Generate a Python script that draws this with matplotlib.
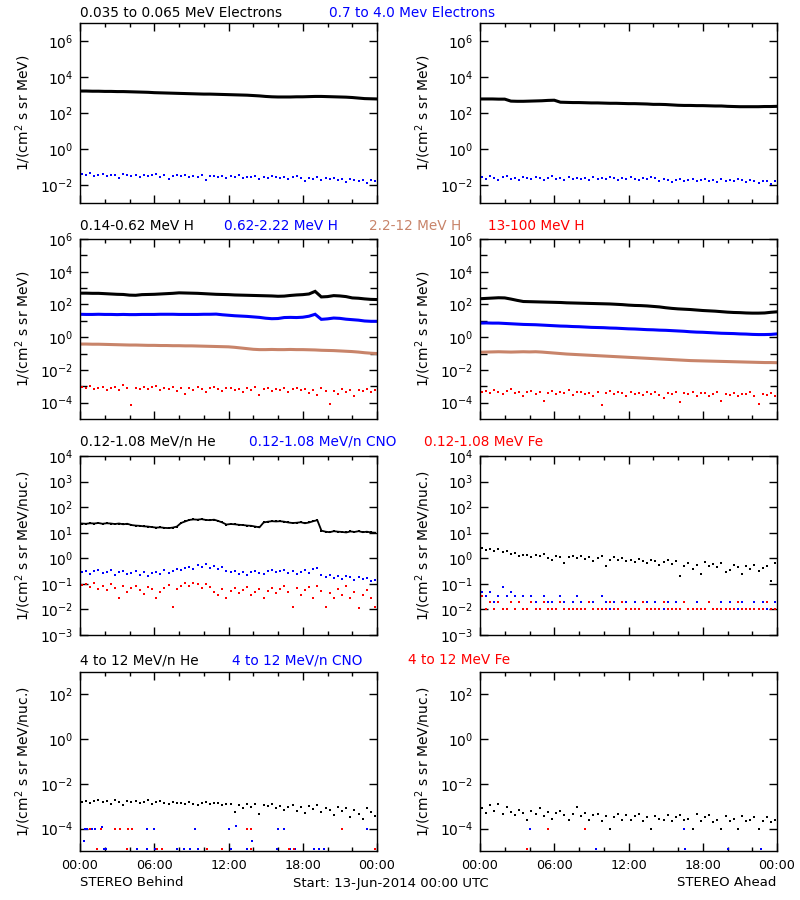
import numpy as np
import matplotlib
matplotlib.use('Agg')
import matplotlib.pyplot as plt
from matplotlib.ticker import FixedLocator, FuncFormatter, NullFormatter, NullLocator

# all fluxes are log10 values, time in hours from 13-Jun-2014 00:00 UTC

# --- row 1: electrons
e_b_lo = [3.22,3.22,3.21,3.21,3.20,3.20,3.19,3.19,3.18,3.17,3.16,3.15,3.13,3.12,3.11,3.10,3.09,3.08,3.07,3.06,
          3.05,3.05,3.04,3.03,3.02,3.01,3.00,2.99,2.97,2.95,2.92,2.90,2.89,2.89,2.89,2.90,2.90,2.91,2.92,2.92,
          2.91,2.90,2.89,2.88,2.86,2.83,2.80,2.79,2.78]
e_b_hi = [-1.40,-1.46,-1.35,-1.50,-1.42,-1.38,-1.52,-1.44,-1.47,-1.60,-1.41,-1.46,
          -1.49,-1.43,-1.58,-1.46,-1.51,-1.44,-1.40,-1.53,-1.47,-1.65,-1.50,-1.45,
          -1.52,-1.42,-1.56,-1.49,-1.54,-1.46,-1.72,-1.51,-1.48,-1.57,-1.52,-1.60,
          -1.50,-1.55,-1.47,-1.62,-1.53,-1.58,-1.51,-1.66,-1.54,-1.60,-1.52,-1.57,
          -1.63,-1.55,-1.68,-1.58,-1.52,-1.61,-1.80,-1.59,-1.64,-1.56,-1.70,-1.62,
          -1.66,-1.60,-1.74,-1.65,-1.82,-1.68,-1.72,-1.78,-1.70,-1.88,-1.74,-1.80]
e_a_lo = [2.78,2.78,2.78,2.77,2.77,2.66,2.65,2.65,2.66,2.67,2.68,2.70,2.71,2.60,2.59,2.58,2.58,2.57,2.56,2.56,
          2.55,2.54,2.54,2.53,2.52,2.52,2.51,2.50,2.48,2.48,2.47,2.45,2.43,2.42,2.42,2.41,2.41,2.40,2.39,2.39,
          2.37,2.36,2.35,2.35,2.35,2.35,2.36,2.36,2.37]
e_a_hi = [-1.58,-1.65,-1.52,-1.62,-1.70,-1.55,-1.48,-1.66,-1.60,-1.72,-1.57,-1.63,
          -1.68,-1.56,-1.61,-1.74,-1.59,-1.52,-1.66,-1.62,-1.70,-1.58,-1.64,-1.60,
          -1.67,-1.62,-1.72,-1.58,-1.65,-1.61,-1.68,-1.55,-1.63,-1.70,-1.60,-1.66,
          -1.58,-1.64,-1.72,-1.61,-1.67,-1.56,-1.63,-1.78,-1.65,-1.70,-1.86,-1.74,
          -1.68,-1.80,-1.72,-1.66,-1.76,-1.70,-1.64,-1.78,-1.72,-1.84,-1.68,-1.75,
          -1.70,-1.80,-1.66,-1.74,-1.82,-1.72,-1.78,-1.88,-1.75,-1.80,-1.92,-1.78]

# --- row 2: protons
h_b_1 = [2.69,2.69,2.68,2.68,2.66,2.64,2.62,2.61,2.57,2.56,2.60,2.61,2.62,2.64,2.66,2.68,2.71,2.70,2.69,2.68,
         2.66,2.64,2.62,2.61,2.60,2.58,2.57,2.56,2.55,2.54,2.53,2.52,2.50,2.51,2.55,2.58,2.60,2.64,2.80,2.46,
         2.48,2.54,2.52,2.48,2.40,2.38,2.34,2.31,2.30]
h_b_2 = [1.40,1.39,1.39,1.40,1.39,1.39,1.38,1.39,1.38,1.38,1.39,1.39,1.39,1.40,1.40,1.40,1.39,1.39,1.39,1.39,
         1.40,1.40,1.41,1.37,1.34,1.31,1.29,1.27,1.24,1.21,1.16,1.13,1.14,1.20,1.21,1.20,1.22,1.28,1.40,1.09,
         1.12,1.17,1.15,1.10,1.07,1.04,0.99,0.97,0.97]
h_b_3 = [-0.42,-0.42,-0.43,-0.43,-0.44,-0.45,-0.46,-0.47,-0.48,-0.48,-0.49,-0.50,-0.50,-0.51,-0.51,-0.52,-0.52,
         -0.53,-0.53,-0.54,-0.55,-0.56,-0.57,-0.58,-0.59,-0.62,-0.66,-0.70,-0.74,-0.76,-0.76,-0.75,-0.76,-0.76,
         -0.75,-0.76,-0.76,-0.77,-0.78,-0.80,-0.81,-0.82,-0.84,-0.86,-0.88,-0.91,-0.95,-0.98,-1.00]
h_b_4 = [-3.05,-3.12,-2.98,-3.15,-3.08,-3.02,-3.20,-3.10,-3.05,-3.25,-2.95,-3.12,
         -4.15,-3.08,-3.18,-3.02,-3.14,-3.06,-2.96,-3.22,-3.10,-3.16,-3.04,-3.28,
         -3.12,-3.48,-3.08,-3.20,-3.05,-3.15,-3.32,-3.10,-3.02,-3.18,-3.26,-3.12,
         -3.08,-3.22,-3.14,-3.38,-3.10,-3.20,-3.06,-3.52,-3.18,-3.12,-3.28,-3.15,
         -3.22,-3.10,-3.35,-3.18,-3.08,-3.25,-3.14,-3.42,-3.20,-3.52,-3.12,-3.30,
         -4.10,-3.26,-3.48,-3.15,-3.32,-3.22,-3.62,-3.20,-3.28,-3.18,-3.35,-3.25]
h_a_1 = [2.35,2.37,2.39,2.41,2.40,2.33,2.25,2.18,2.17,2.16,2.15,2.14,2.13,2.12,2.10,2.09,2.08,2.07,2.06,2.05,
         2.04,2.03,2.01,1.99,1.96,1.94,1.93,1.91,1.88,1.85,1.80,1.76,1.73,1.71,1.69,1.66,1.63,1.61,1.59,1.56,
         1.53,1.51,1.50,1.48,1.47,1.47,1.48,1.52,1.55]
h_a_2 = [0.86,0.87,0.86,0.86,0.84,0.82,0.80,0.78,0.77,0.76,0.74,0.72,0.70,0.68,0.67,0.65,0.64,0.62,0.60,0.59,
         0.58,0.56,0.55,0.53,0.51,0.50,0.48,0.46,0.45,0.43,0.42,0.40,0.38,0.36,0.33,0.31,0.30,0.28,0.26,0.24,
         0.23,0.22,0.20,0.19,0.17,0.16,0.16,0.17,0.20]
h_a_3 = [-0.92,-0.91,-0.90,-0.89,-0.90,-0.91,-0.90,-0.89,-0.90,-0.89,-0.91,-0.94,-0.97,-1.00,-1.03,-1.05,-1.07,
         -1.09,-1.11,-1.13,-1.15,-1.17,-1.19,-1.21,-1.23,-1.25,-1.27,-1.29,-1.31,-1.33,-1.35,-1.37,-1.39,-1.41,
         -1.43,-1.44,-1.45,-1.46,-1.47,-1.48,-1.49,-1.50,-1.51,-1.52,-1.53,-1.54,-1.55,-1.55,-1.56]
h_a_4 = [-3.35,-3.28,-3.42,-3.20,-3.38,-3.50,-3.30,-3.15,-3.40,-3.32,-3.62,-3.36,
         -3.28,-3.45,-3.34,-3.90,-3.40,-3.30,-3.48,-3.36,-3.42,-3.25,-3.52,-3.38,
         -3.32,-3.46,-3.40,-3.58,-3.35,-4.15,-3.44,-3.30,-3.50,-3.38,-3.42,-3.62,
         -3.36,-3.48,-3.40,-3.55,-3.34,-3.45,-3.38,-3.52,-3.70,-3.40,-3.46,-3.35,
         -3.95,-3.42,-3.50,-3.36,-3.58,-3.44,-3.40,-3.60,-3.48,-3.38,-3.92,-3.46,
         -3.52,-3.40,-3.62,-3.45,-3.50,-3.38,-3.58,-4.10,-3.48,-3.55,-3.42,-3.62]

# --- row 3: 0.12-1.08 MeV/n heavy ions
he_b_lo = [1.36,1.35,1.37,1.36,1.38,1.35,1.37,1.36,1.34,1.36,1.33,1.35,
           1.30,1.28,1.27,1.25,1.24,1.22,1.20,1.21,1.19,1.18,1.20,1.24,
           1.38,1.44,1.50,1.52,1.51,1.53,1.50,1.49,1.51,1.46,1.40,1.32,
           1.34,1.33,1.31,1.30,1.28,1.27,1.24,1.21,1.40,1.43,1.45,1.44,
           1.45,1.43,1.40,1.38,1.39,1.41,1.37,1.40,1.45,1.49,1.08,1.04,
           1.02,1.06,1.04,1.03,1.01,1.05,1.03,1.06,1.02,1.04,1.01,1.00]
cno_b_lo = [-0.55,-0.48,-0.62,-0.50,-0.44,-0.58,-0.52,-0.47,-0.66,-0.53,-0.49,-0.60,
            -0.57,-0.51,-0.64,-0.55,-0.70,-0.58,-0.52,-0.61,-0.47,-0.56,-0.50,-0.42,
            -0.45,-0.38,-0.33,-0.40,-0.28,-0.35,-0.24,-0.37,-0.31,-0.42,-0.36,-0.50,
            -0.54,-0.48,-0.60,-0.52,-0.67,-0.55,-0.49,-0.58,-0.63,-0.51,-0.46,-0.55,
            -0.50,-0.44,-0.57,-0.48,-0.62,-0.53,-0.47,-0.58,-0.42,-0.38,-0.66,-0.72,
            -0.64,-0.78,-0.70,-0.82,-0.68,-0.75,-0.85,-0.72,-0.80,-0.77,-0.88,-0.83]
fe_b_lo = [-1.05,-1.00,-1.12,-0.98,-1.20,-1.08,-1.25,-1.02,-1.15,-1.55,-1.10,-1.30,
           -1.18,-1.08,-1.25,-1.40,-1.12,-1.22,-1.55,-1.30,-1.15,-1.05,-1.92,-1.20,
           -1.10,-0.98,-1.08,-0.95,-1.02,-1.15,-1.00,-1.12,-1.30,-1.42,-1.22,-1.55,
           -1.28,-1.18,-1.35,-1.25,-1.12,-1.42,-1.30,-1.20,-1.55,-1.28,-1.15,-1.35,
           -1.22,-1.10,-1.30,-1.92,-1.18,-1.42,-1.25,-1.12,-1.55,-1.08,-1.28,-1.92,
           -1.35,-1.55,-1.22,-1.42,-1.10,-1.55,-1.30,-1.95,-1.42,-1.25,-1.55,-1.92]
he_a_lo = [0.40,0.33,0.38,0.30,0.36,0.25,0.28,0.15,0.20,0.10,0.14,0.12,
           0.05,0.12,0.08,0.15,0.02,-0.05,0.10,0.06,-0.18,0.04,0.10,0.00,
           0.08,-0.02,0.05,-0.12,0.03,0.10,-0.30,-0.05,0.06,-0.08,0.02,-0.10,
           -0.05,-0.15,-0.02,-0.10,-0.20,-0.08,-0.12,-0.25,-0.15,-0.05,-0.22,-0.12,
           -0.70,-0.30,-0.18,-0.40,-0.25,-0.60,-0.15,-0.30,-0.22,-0.35,-0.20,-0.55,
           -0.45,-0.28,-0.35,-0.62,-0.30,-0.40,-0.25,-0.48,-0.38,-0.30,-0.90,-0.20]
cno_a_lo = [-1.30,-1.49,-1.30,-1.69,-1.49,-1.13,-1.49,-1.32,-1.49,-1.69,-1.49,-2.00,
            -1.49,-1.69,-2.00,-1.49,-1.69,-1.69,-2.00,-1.49,-1.69,-2.00,-1.69,-1.49,
            -1.69,-2.00,-1.69,-1.69,-2.00,-1.49,-1.69,-2.00,-1.69,-2.00,-1.69,-1.69,
            -2.00,-1.69,-2.00,-1.69,-1.69,-2.00,-1.69,-2.00,-2.00,-1.69,-2.00,-1.69,
            -2.00,-1.69,-2.00,-2.00,-1.69,-2.00,-2.00,-1.69,-2.00,-2.00,-1.69,-2.00,
            -1.69,-2.00,-2.00,-1.69,-2.00,-2.00,-1.69,-2.00,-1.69,-2.00,-2.00,-1.69]
fe_a_lo = [-1.49,-2.00,-1.69,-2.00,-1.69,-2.00,-2.00,-1.69,-2.00,-1.69,-2.00,-2.00,
           -1.69,-2.00,-2.00,-1.69,-2.00,-2.00,-2.00,-1.69,-2.00,-2.00,-2.00,-2.00,
           -2.00,-2.00,-1.69,-2.00,-2.00,-2.00,-2.00,-1.69,-2.00,-2.00,-1.69,-2.00,
           -2.00,-2.00,-2.00,-1.69,-2.00,-2.00,-2.00,-2.00,-1.69,-2.00,-2.00,-2.00,
           -2.00,-1.69,-2.00,-2.00,-2.00,-2.00,-2.00,-1.69,-2.00,-2.00,-2.00,-2.00,
           -2.00,-2.00,-1.69,-2.00,-2.00,-2.00,-2.00,-2.00,-2.00,-1.69,-2.00,-2.00]

# --- row 4: 4-12 MeV/n heavy ions
he_b_hi = [-2.80,-2.75,-2.85,-2.78,-2.72,-2.82,-2.76,-2.88,-2.74,-2.80,-2.95,-2.78,
           -2.83,-2.77,-2.86,-2.80,-2.74,-2.90,-2.82,-2.78,-2.85,-2.92,-2.80,-2.86,
           -2.84,-2.90,-2.82,-2.88,-2.95,-2.86,-2.80,-2.92,-2.87,-2.84,-2.93,-2.88,
           -2.90,-3.25,-2.95,-3.10,-2.88,-3.05,-2.92,-3.35,-2.95,-3.00,-2.90,-3.08,
           -2.98,-3.15,-3.02,-2.94,-3.20,-3.05,-3.30,-3.00,-3.12,-2.96,-3.25,-3.08,
           -3.15,-3.40,-3.05,-3.22,-3.10,-3.50,-3.18,-3.35,-3.55,-3.08,-3.25,-3.45]
he_a_hi = [-3.10,-3.30,-2.95,-3.20,-2.92,-3.35,-3.05,-3.25,-3.40,-3.15,-3.30,-3.60,
           -3.20,-3.35,-3.10,-3.45,-3.25,-3.55,-3.30,-3.20,-3.40,-3.60,-3.35,-3.05,
           -3.45,-3.30,-3.60,-3.40,-3.35,-3.65,-3.45,-4.00,-3.50,-3.35,-3.62,-3.40,
           -3.60,-3.45,-3.35,-3.65,-3.50,-4.00,-3.42,-3.55,-3.62,-3.38,-3.65,-3.50,
           -3.40,-3.62,-3.55,-4.00,-3.35,-3.65,-3.48,-3.40,-3.70,-3.62,-4.00,-3.45,
           -3.65,-3.55,-4.00,-3.42,-3.68,-3.60,-3.50,-4.00,-3.65,-3.48,-3.70,-3.62]
cno_b_hi_t = [0.3, 0.4, 0.6, 0.8, 1.0, 1.2, 1.75, 5.4, 5.95, 9.3, 12.0, 12.6, 13.5, 13.9, 16.0, 16.5, 23.2,
              1.9, 2.1, 3.8, 4.6, 5.4, 6.1, 7.8, 8.4, 8.9, 9.5, 11.5, 12.2, 13.5, 15.9, 17.0, 17.4, 18.9, 19.3, 19.7]
cno_b_hi_v = [-4.55, -4.0, -4.0, -4.0, -4.0, -4.0, -3.92, -4.0, -4.0, -4.0, -4.0, -3.88, -4.0, -4.55, -4.0, -4.0, -4.0,
              -4.92, -4.92, -4.92, -4.92, -4.92, -4.92, -4.92, -4.92, -4.92, -4.92, -4.92, -4.92, -4.92, -4.92,
              -4.92, -4.92, -4.92, -4.92, -4.92]
fe_b_hi_t = [0.8, 1.7, 2.8, 3.2, 3.9, 4.2, 13.5, 13.8, 21.2,
             1.35, 3.8, 6.2, 6.6, 10.3, 11.5, 13.8, 16.9, 17.3, 23.8]
fe_b_hi_v = [-4.0, -4.0, -4.0, -4.0, -4.0, -4.0, -4.0, -4.0, -4.0,
             -4.92, -4.92, -4.92, -4.92, -4.92, -4.92, -4.92, -4.92, -4.92, -4.92]
cno_a_hi_t = [4.05, 16.5, 9.4, 16.6, 20.0, 22.7]
cno_a_hi_v = [-4.0, -4.0, -4.92, -4.92, -4.92, -4.92]
fe_a_hi_t = [5.5, 8.5, 3.8]
fe_a_hi_v = [-4.0, -4.0, -4.92]

hour_ticks = [0, 6, 12, 18, 24]
hour_labels = ['00:00', '06:00', '12:00', '18:00', '00:00']

BROWN = '#c8846a'
FS = 9.8

fig = plt.figure(figsize=(8, 9), dpi=100)


def make_ax(col, top, bottom):
    x0 = 80 if col == 0 else 480
    return fig.add_axes([x0 / 800, 1 - bottom / 900, 297 / 800, (bottom - top) / 900])


def setup(ax, lo, hi, labeled, minor, ylabel, xlabels=False):
    ax.set_yscale('log')
    ax.set_ylim(10.0 ** lo, 10.0 ** hi)
    ax.set_xlim(0, 24)
    ax.yaxis.set_major_locator(FixedLocator([10.0 ** e for e in labeled]))
    ax.yaxis.set_major_formatter(FuncFormatter(lambda v, p: '$10^{%d}$' % round(np.log10(v))))
    if minor:
        ax.yaxis.set_minor_locator(FixedLocator([10.0 ** e for e in minor]))
    else:
        ax.yaxis.set_minor_locator(NullLocator())
    ax.yaxis.set_minor_formatter(NullFormatter())
    ax.xaxis.set_major_locator(FixedLocator(hour_ticks))
    ax.xaxis.set_minor_locator(FixedLocator(range(2, 24, 2)))
    if xlabels:
        ax.set_xticklabels(hour_labels)
    else:
        ax.set_xticklabels([])
    ax.tick_params(which='both', direction='in', top=True, right=True, width=1)
    ax.tick_params(axis='y', which='major', length=6, labelsize=10, pad=5)
    ax.tick_params(axis='y', which='minor', length=5)
    ax.tick_params(axis='x', which='major', length=6, labelsize=9.2, pad=6)
    ax.tick_params(axis='x', which='minor', length=3)
    ax.set_ylabel(ylabel, fontsize=10)
    ax.yaxis.set_label_coords(-0.158, 0.5)
    for s in ax.spines.values():
        s.set_linewidth(1)


def line(ax, vals, color, lw=2.2):
    t = np.linspace(0, 24, len(vals))
    ax.plot(t, 10.0 ** np.array(vals), color=color, lw=lw, solid_joinstyle='miter')


def dots(ax, vals, color, t=None, ms=2.0):
    if t is None:
        t = np.linspace(0.15, 23.85, len(vals))
    ax.plot(t, 10.0 ** np.array(vals), ls='none', marker='s', ms=ms, mew=0, color=color)


lab1 = '1/(cm$^2$ s sr MeV)'
lab2 = '1/(cm$^2$ s sr MeV/nuc.)'

rows = [(23, 203), (239, 419), (456, 635), (672, 851)]

# row 1
for col, (lo_v, hi_v) in enumerate([(e_b_lo, e_b_hi), (e_a_lo, e_a_hi)]):
    ax = make_ax(col, *rows[0])
    setup(ax, -3, 7, [-2, 0, 2, 4, 6], None, lab1)
    line(ax, lo_v, 'black')
    dots(ax, hi_v, 'blue')

# row 2
for col, ser in enumerate([(h_b_1, h_b_2, h_b_3, h_b_4), (h_a_1, h_a_2, h_a_3, h_a_4)]):
    ax = make_ax(col, *rows[1])
    setup(ax, -5, 6, [-4, -2, 0, 2, 4, 6], [-3, -1, 1, 3, 5], lab1)
    line(ax, ser[0], 'black')
    line(ax, ser[1], 'blue')
    line(ax, ser[2], BROWN)
    dots(ax, ser[3], 'red')

# row 3
for col, ser in enumerate([(he_b_lo, cno_b_lo, fe_b_lo), (he_a_lo, cno_a_lo, fe_a_lo)]):
    ax = make_ax(col, *rows[2])
    setup(ax, -3, 4, [-3, -2, -1, 0, 1, 2, 3, 4], None, lab2)
    if col == 0:
        # behind He is dense enough to read as a ragged line
        t = np.linspace(0.15, 23.85, len(ser[0]))
        ax.plot(t, 10.0 ** np.array(ser[0]), color='black', lw=1.3, marker='s', ms=2.0, mew=0)
    else:
        dots(ax, ser[0], 'black')
    dots(ax, ser[1], 'blue')
    dots(ax, ser[2], 'red')

# row 4
for col, ser in enumerate([(he_b_hi, cno_b_hi_t, cno_b_hi_v, fe_b_hi_t, fe_b_hi_v),
                           (he_a_hi, cno_a_hi_t, cno_a_hi_v, fe_a_hi_t, fe_a_hi_v)]):
    ax = make_ax(col, *rows[3])
    setup(ax, -5, 3, [-4, -2, 0, 2], None, lab2, xlabels=True)
    dots(ax, ser[0], 'black')
    dots(ax, ser[2], 'blue', t=ser[1], ms=1.8)
    dots(ax, ser[4], 'red', t=ser[3], ms=1.8)

# channel titles
titles = [
    (13, [(80, '0.035 to 0.065 MeV Electrons', 'black'), (329, '0.7 to 4.0 Mev Electrons', 'blue')]),
    (226, [(80, '0.14-0.62 MeV H', 'black'), (224, '0.62-2.22 MeV H', 'blue'),
           (369, '2.2-12 MeV H', BROWN), (488, '13-100 MeV H', 'red')]),
    (442, [(80, '0.12-1.08 MeV/n He', 'black'), (249, '0.12-1.08 MeV/n CNO', 'blue'),
           (424, '0.12-1.08 MeV Fe', 'red')]),
    (660, [(80, '4 to 12 MeV/n He', 'black'), (232, '4 to 12 MeV/n CNO', 'blue'),
           (408, '4 to 12 MeV Fe', 'red')]),
]
for y, items in titles:
    for x, s, c in items:
        fig.text(x / 800, 1 - y / 900, s, color=c, fontsize=FS, ha='left', va='center')

fig.text(80 / 800, 1 - 883 / 900, 'STEREO Behind', fontsize=9.5, ha='left', va='center')
fig.text(293 / 800, 1 - 883 / 900, 'Start: 13-Jun-2014 00:00 UTC', fontsize=9.5, ha='left', va='center')
fig.text(776 / 800, 1 - 883 / 900, 'STEREO Ahead', fontsize=9.5, ha='right', va='center')

fig.savefig('out.png', dpi=100)
